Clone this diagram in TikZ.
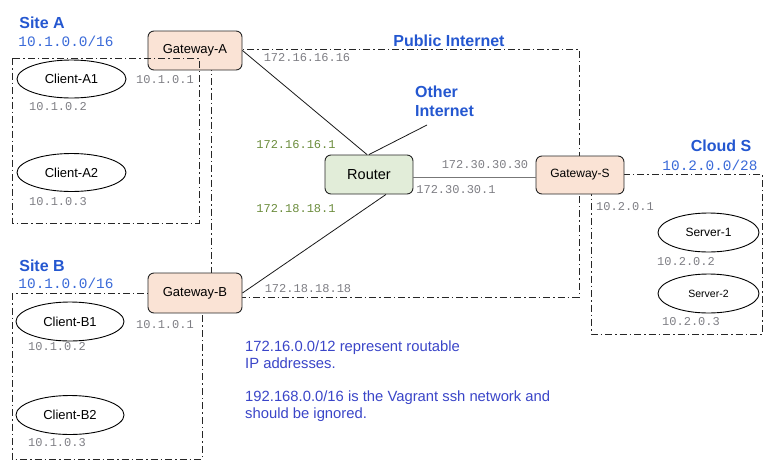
\documentclass[tikz,border=0pt]{standalone}
\usepackage{fontspec}
\setmainfont{Liberation Sans}
\newfontfamily\monof{Liberation Mono}
\usetikzlibrary{shapes.geometric}
\definecolor{gwfill}{HTML}{FAE3D5}
\definecolor{rtfill}{HTML}{E2EDD9}
\definecolor{titleblue}{HTML}{2457D0}
\definecolor{netblue}{HTML}{3A6AD8}
\definecolor{ipgray}{HTML}{7E7E84}
\definecolor{ipgreen}{HTML}{6B8C3C}
\definecolor{noteblue}{HTML}{3A45C8}
\definecolor{linkgray}{HTML}{777777}
\tikzset{
  gw/.style={draw=black!85, fill=gwfill, rounded corners=6pt, line width=0.9pt, inner sep=0pt},
  rt/.style={draw=black!85, fill=rtfill, rounded corners=6pt, line width=0.9pt, inner sep=0pt},
  host/.style={draw=black, ellipse, line width=0.9pt, inner sep=0pt, fill=white},
  zone/.style={draw=black!85, line width=0.9pt, dash pattern=on 7pt off 3pt on 1.5pt off 3pt},
  ip/.style={inner sep=0pt, text=ipgray, font=\monof\fontsize{12}{14}\selectfont},
  ipg/.style={ip, text=ipgreen},
  net/.style={inner sep=0pt, text=netblue, font=\monof\fontsize{14.4}{16}\selectfont},
  ttl/.style={inner sep=0pt, text=titleblue, font=\bfseries\fontsize{16}{19}\selectfont},
  note/.style={inner sep=0pt, text=noteblue, font=\fontsize{14.8}{17}\selectfont, align=left, anchor=west},
  wire/.style={draw=black!90, line width=0.8pt}
}
\begin{document}
\begin{tikzpicture}[x=1pt,y=-1pt]
\useasboundingbox (0,0) rectangle (774,472);
% zones behind gateways
\draw[zone] (211,49) rectangle (579,297);
\draw[zone] (12,293) rectangle (202,459);
\draw[zone] (591,174) rectangle (762,334);
% gateways and router
\node[gw, minimum width=94pt, minimum height=39pt, font=\fontsize{13}{15}\selectfont] (GA) at (195,50.5) {Gateway-A};
\node[gw, minimum width=94pt, minimum height=40pt, font=\fontsize{13}{15}\selectfont] (GB) at (195,293) {Gateway-B};
\node[gw, minimum width=88pt, minimum height=38pt, font=\fontsize{12}{14}\selectfont] (GS) at (580,175) {Gateway-S};
\node[rt, minimum width=88pt, minimum height=39pt, font=\fontsize{14.5}{16}\selectfont] (R) at (369,174.5) {Router};
% site A zone drawn over gateway
\draw[zone] (12,58) rectangle (199,223);
% hosts
\node[host, minimum width=109pt, minimum height=38pt, font=\fontsize{13}{15}\selectfont] (A1) at (71.5,79) {Client-A1};
\node[host, minimum width=109pt, minimum height=38pt, font=\fontsize{13}{15}\selectfont] (A2) at (71.5,172.5) {Client-A2};
\node[host, minimum width=108pt, minimum height=39pt, font=\fontsize{13}{15}\selectfont] (B1) at (70,321.5) {Client-B1};
\node[host, minimum width=108pt, minimum height=39pt, font=\fontsize{13}{15}\selectfont] (B2) at (70,415) {Client-B2};
\node[host, minimum width=101pt, minimum height=39pt, font=\fontsize{12}{14}\selectfont] (S1) at (708.5,232.5) {Server-1};
\node[host, minimum width=101pt, minimum height=39pt, font=\fontsize{10.5}{12}\selectfont] (S2) at (708.5,293.5) {Server-2};
% links
\coordinate (OI) at (427,125);
\draw[wire] (GA.east) -- ([xshift=-2pt]R.north);
\draw[wire] (R.north) -- (OI);
\draw[wire] ([xshift=17pt]R.south) -- (GB.east);
\draw[draw=linkgray, line width=1.6pt] ([yshift=-3pt]R.east) -- ([yshift=-2.5pt]GS.west);
% titles
\node[ttl] (tA) at (42,23) {Site A};
\node[net] (nA) at (66,41) {10.1.0.0/16};
\node[ttl] (tB) at (42,266) {Site B};
\node[net] (nB) at (66,283) {10.1.0.0/16};
\node[ttl] (tP) at (449,41) {Public Internet};
\node[ttl, align=left, anchor=west, font=\bfseries\fontsize{16}{19}\selectfont] (tO) at (415,101.5) {Other\\Internet};
\node[ttl] (tC) at (721,146) {Cloud S};
\node[net] (nC) at (710,165) {10.2.0.0/28};
% IP labels
\node[ip] (ia1) at (165,80) {10.1.0.1};
\node[ip] (ia2) at (58,107) {10.1.0.2};
\node[ip] (ia3) at (58,202) {10.1.0.3};
\node[ip] (ib1) at (165,325) {10.1.0.1};
\node[ip] (ib2) at (57,347) {10.1.0.2};
\node[ip] (ib3) at (57,443) {10.1.0.3};
\node[ip] (is1) at (625,207) {10.2.0.1};
\node[ip] (is2) at (686,262) {10.2.0.2};
\node[ip] (is3) at (691,322) {10.2.0.3};
\node[ip] (p1) at (307,58) {172.16.16.16};
\node[ipg] (p2) at (296,145) {172.16.16.1};
\node[ipg] (p3) at (296,209) {172.18.18.1};
\node[ip] (p4) at (308,289) {172.18.18.18};
\node[ip] (p5) at (485,165) {172.30.30.30};
\node[ip] (p6) at (456,190) {172.30.30.1};
% note
\node[note] (n1) at (245,354.5) {172.16.0.0/12 represent routable\\IP addresses.};
\node[note] (n2) at (245,406.5) {192.168.0.0/16 is the Vagrant ssh network and\\should be ignored.};
\end{tikzpicture}
\end{document}
